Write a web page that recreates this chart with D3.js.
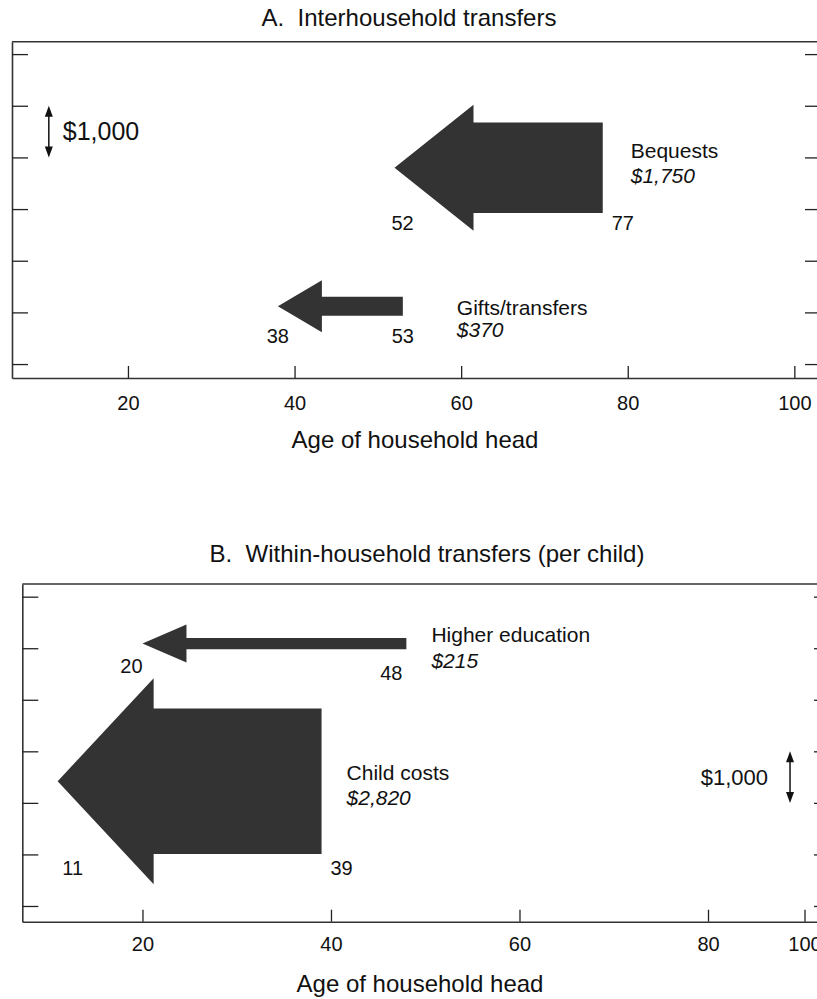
<!DOCTYPE html>
<html>
<head>
<meta charset="utf-8">
<script src="https://cdn.jsdelivr.net/npm/d3@7"></script>
<style>
  body { margin: 0; background: #fff; }
  svg text { font-family: "Liberation Sans", Arial, Helvetica, sans-serif; fill: #111; white-space: pre; }
</style>
</head>
<body>
<div id="chart"></div>
<script>
// ---- data ----
// panel A: interhousehold transfers (from giver age to receiver age)
var namesA   = ["Bequests", "Gifts/transfers"];
var fromAgeA = [77, 53];
var toAgeA   = [52, 38];
var amountA  = [1750, 370];
var levelA   = [3800, 1120];   // vertical centre on the (unlabelled) $ axis

// panel B: within-household transfers (per child)
var namesB   = ["Higher education", "Child costs"];
var fromAgeB = [48, 39];
var toAgeB   = [20, 11];
var amountB  = [215, 2820];
var levelB   = [5090, 2420];

var ageTicks    = [20, 40, 60, 80, 100];
var dollarTicks = [0, 1000, 2000, 3000, 4000, 5000, 6000];
var scaleBarAmount = 1000;
var scaleBarLabel  = "$1,000";

// ---- layout / style (pixels) ----
var W = 817, H = 999;
var fill = "#333333";

var panels = [
  {
    title: "A.  Interhousehold transfers", titleX: 409, titleY: 26,
    names: namesA, from: fromAgeA, to: toAgeA, amount: amountA, level: levelA,
    xDomain: [6.08, 103.2], xRange: [12, 821],
    yDomain: [-270, 6240], yRange: [378, 41.7],
    tickLabelY: 32, axisTitleX: 415, axisTitleY: 70,
    bar: { age: 10.5, base: 4000, labelDx: 14, labelDy: 8, anchor: "start", size: 25 }
  },
  {
    title: "B.  Within-household transfers (per child)", titleX: 427, titleY: 562,
    names: namesB, from: fromAgeB, to: toAgeB, amount: amountB, level: levelB,
    xDomain: [7.25, 80, 100, 105.3], xRange: [22.3, 708, 804.5, 830],
    yDomain: [-305, 6246], yRange: [921.7, 584],
    tickLabelY: 29, axisTitleX: 420, axisTitleY: 70,
    bar: { age: 97, base: 2000, labelDx: -22, labelDy: 7.5, anchor: "end", size: 22 }
  }
];

// per-arrow head size and label offsets
var arrowStyle = {
  "Bequests":         { head: [79, 63],  tip: [8, 62],   tail: [20, 62],  name: [28, -9.4], value: [28, 15.6] },
  "Gifts/transfers":  { head: [44, 26],  tip: [0, 37],   tail: [0, 37],   name: [54, 9],    value: [54, 31] },
  "Higher education": { head: [44, 19],  tip: [-11, 29], tail: [-15, 36], name: [25, -2],   value: [25, 24.6] },
  "Child costs":      { head: [96, 103], tip: [15, 94],  tail: [20, 94],  name: [25, -1.4], value: [25, 23.6] }
};

var svg = d3.select("#chart").append("svg")
  .attr("width", W).attr("height", H);

var money = d3.format("$,");

panels.forEach(function(p) {
  var x = d3.scaleLinear().domain(p.xDomain).range(p.xRange);
  var y = d3.scaleLinear().domain(p.yDomain).range(p.yRange);
  var x0 = p.xRange[0], x1 = p.xRange[p.xRange.length - 1];
  var yb = p.yRange[0], yt = p.yRange[1];
  var g = svg.append("g");

  // title
  g.append("text").attr("x", p.titleX).attr("y", p.titleY)
    .attr("text-anchor", "middle").style("font-size", "24px").text(p.title);

  // frame top line
  g.append("line").attr("x1", x0).attr("x2", x1).attr("y1", yt).attr("y2", yt)
    .attr("stroke", "#333").attr("stroke-width", 1.6);

  // left and right axes, ticks inward
  var left = g.append("g").attr("transform", "translate(" + x0 + ",0)")
    .call(d3.axisLeft(y).tickValues(dollarTicks).tickSize(-16).tickSizeOuter(0).tickFormat(""));
  var right = g.append("g").attr("transform", "translate(" + x1 + ",0)")
    .call(d3.axisRight(y).tickValues(dollarTicks).tickSize(-16).tickSizeOuter(0).tickFormat(""));

  // bottom axis, ticks upward
  var bottom = g.append("g").attr("transform", "translate(0," + yb + ")")
    .call(d3.axisBottom(x).tickValues(ageTicks).tickSize(-12).tickSizeOuter(0));
  bottom.selectAll("text")
    .attr("y", p.tickLabelY).attr("dy", null)
    .style("font-size", "20px").style("font-family", null).attr("fill", "#111");

  [left, right, bottom].forEach(function(a) {
    a.select(".domain").attr("stroke", "#333").attr("stroke-width", 1.6);
    a.selectAll(".tick line").attr("stroke", "#222").attr("stroke-width", 1.3);
  });

  // axis title
  g.append("text").attr("x", p.axisTitleX).attr("y", yb + p.axisTitleY)
    .attr("text-anchor", "middle").style("font-size", "24px").text("Age of household head");

  // arrows
  p.names.forEach(function(name, i) {
    var s = arrowStyle[name];
    var cy = y(p.level[i]);
    var h = y(0) - y(p.amount[i]);
    var xt = x(p.to[i]), xf = x(p.from[i]);
    var xh = xt + s.head[0];
    var pts = [
      [xf, cy - h / 2], [xh, cy - h / 2], [xh, cy - s.head[1]],
      [xt, cy], [xh, cy + s.head[1]], [xh, cy + h / 2], [xf, cy + h / 2]
    ];
    g.append("path").attr("d", d3.line()(pts) + "Z").attr("fill", fill);

    g.append("text").attr("x", xt + s.tip[0]).attr("y", cy + s.tip[1])
      .attr("text-anchor", "middle").style("font-size", "20px").text(p.to[i]);
    g.append("text").attr("x", xf + s.tail[0]).attr("y", cy + s.tail[1])
      .attr("text-anchor", "middle").style("font-size", "20px").text(p.from[i]);
    g.append("text").attr("x", xf + s.name[0]).attr("y", cy + s.name[1])
      .style("font-size", "21px").text(name);
    g.append("text").attr("x", xf + s.value[0]).attr("y", cy + s.value[1])
      .style("font-size", "21px").style("font-style", "italic").text(money(p.amount[i]));
  });

  // $1,000 scale bar (double-headed)
  var b = p.bar;
  var bx = x(b.age), ya = y(b.base), yz = y(b.base + scaleBarAmount);
  g.append("line").attr("x1", bx).attr("x2", bx).attr("y1", ya - 9).attr("y2", yz + 9)
    .attr("stroke", "#111").attr("stroke-width", 1.5);
  g.append("path").attr("fill", "#111")
    .attr("d", d3.line()([[bx, yz], [bx - 4, yz + 11], [bx + 4, yz + 11]]) + "Z");
  g.append("path").attr("fill", "#111")
    .attr("d", d3.line()([[bx, ya], [bx - 4, ya - 11], [bx + 4, ya - 11]]) + "Z");
  g.append("text").attr("x", bx + b.labelDx).attr("y", (ya + yz) / 2 + b.labelDy)
    .attr("text-anchor", b.anchor).style("font-size", b.size + "px").text(scaleBarLabel);
});
</script>
</body>
</html>
